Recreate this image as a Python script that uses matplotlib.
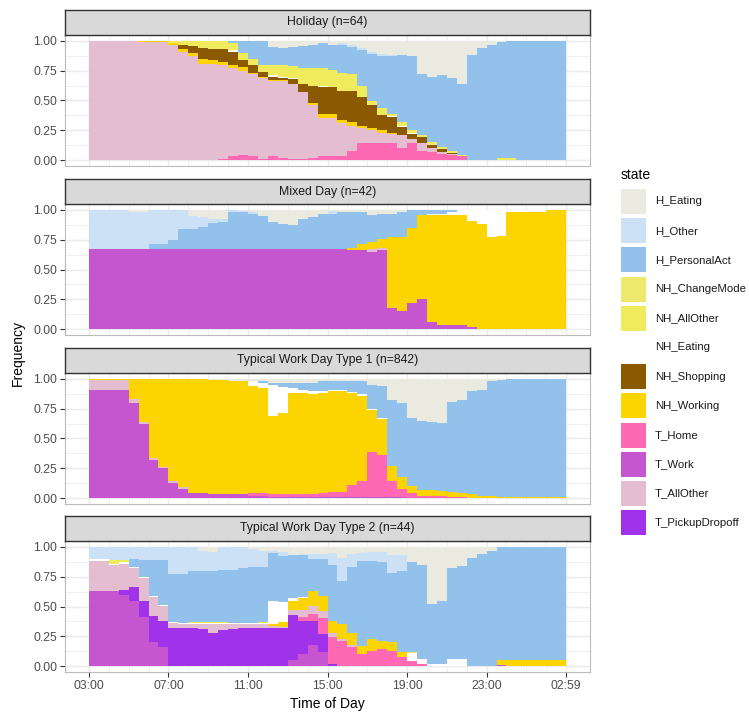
import numpy as np
import matplotlib
matplotlib.use("Agg")
import matplotlib.pyplot as plt
from matplotlib.patches import Rectangle

plt.rcParams['font.family'] = ['Liberation Sans', 'DejaVu Sans']

# ---- data: share of people in each state, half-hour slots from 03:00 ----
slot_start = 3.0      # 03:00
slot_len = 0.5        # hours
n_slots = 48

states = ["H_Eating", "H_Other", "H_PersonalAct", "NH_ChangeMode", "NH_AllOther",
          "NH_Eating", "NH_Shopping", "NH_Working", "T_Home", "T_Work",
          "T_AllOther", "T_PickupDropoff"]
state_colors = ["#EAEAE0", "#CCE1F5", "#92C1EC", "#EEE86C", "#EFEB5C",
                "#FFFFFF", "#8B5A00", "#FCD400", "#FF69B4", "#C655D0",
                "#E4BDD0", "#A033EA"]
# stacking order, bottom -> top
stack_order = ["T_Work", "T_PickupDropoff", "T_Home", "T_AllOther", "NH_Working",
               "NH_Shopping", "NH_Eating", "NH_AllOther", "NH_ChangeMode",
               "H_PersonalAct", "H_Other", "H_Eating"]

panel_titles = ["Holiday (n=64)", "Mixed Day (n=42)",
                "Typical Work Day Type 1 (n=842)", "Typical Work Day Type 2 (n=44)"]

# Holiday
hol_T_Home = [0]*13 + [.01, .03, .04, .03, .01, .03, .02, .01, .01, .02, .03, .03, .03,
                       .08, .14, .14, .14, .14, .10, .14, .08, .07, .05, .04, .03] + [0]*10
hol_T_AllOther = [1.0]*5 + [.99]*3 + [.97, .91, .87, .81, .81, .79, .74, .71, .69, .68,
                                      .63, .64, .63, .56, .44, .32, .32, .28, .21, .13,
                                      .11, .09, .08, .11, .04, .06, .03, .02, .01] + [0]*11
hol_NH_Working = [0]*5 + [.01]*3 + [.01, .02, .03, .04, .03, .02, .03, .03, .01, .01,
                                    .01, .01, 0, 0, .02, .04, .04, .03, .03, .02,
                                    .02, .02, .01] + [0]*17
hol_NH_Shopping = [0]*9 + [.04, .06, .09, .09, .11, .11, .06, .07, .04, .03,
                           .02, .04, .07, .14, .22, .22, .24, .26, .24, .19,
                           .13, .13, .07, .04, .05, .03, .02, .01] + [0]*11
hol_NH_Eating = [0]*14 + [.01] + [0]*3 + [.01, .01, .01] + [0, 0] + [.01] + [0]*6 \
    + [.01, .01, .01] + [0]*15
hol_NH_AllOther = [0]*8 + [.02, .03, .04, .06, .07, .07, .06, .06, .05, .06,
                           .09, .10, .10, .13, .15, .15, .15, .15, .14, .09,
                           .04, .06, .02, .03, .02, .02, .02, .02, .02, .01] \
    + [0, 0, 0, .02, .02] + [0]*5
hol_H_PersonalAct = [0]*14 + [.02, .10, .15, .20, .15, .14, .16, .19, .20, .21,
                              .21, .24, .23, .30, .39, .43, .48, .56, .62, .51,
                              .55, .60, .61, .60, .88, .94, .97, .97, .98] + [1.0]*5
hol_H_Other = [0]*25 + [.01, .02, .02, .02, .02, .01] + [0]*17
hol_H_Eating = [0]*18 + [.05, .06, .05, .04, .03, .02, .02, .02, .03, .06,
                         .09, .11, .12, .12, .13, .28, .30, .29, .31, .36,
                         .12, .06, .03, .01] + [0]*6

# Mixed Day
mix_T_Work = [.67]*26 + [.66, .66, .65, .66, .18, .15, .22, .25, .06, .03, .03, .03, .02] + [0]*9
mix_T_AllOther = [0]*28 + [.02, .02] + [0]*18
mix_NH_Working = [0]*26 + [.02, .05, .06, .08, .59, .62, .63, .71, .90, .93, .93, .93,
                           .89, .88, .77, .78] + [.98]*4 + [1.0]*2
mix_NH_Eating = [0]*34 + [.01, .01, .02, .04, .09, .12, .23, .22] + [.02]*4 + [0]*2
mix_H_PersonalAct = [0]*6 + [.04, .04, .08, .17, .17, .19, .22, .23, .31, .31,
                             .30, .28, .23, .21, .20, .25, .27, .30, .30, .31,
                             .30, .27, .23, .21, .20, .21, .15, .04, .03, .03, .02] + [0]*11
mix_H_Other = [.33]*4 + [.31]*2 + [.29, .29, .25, .16, .11, .08, .03, .02, .02, .01, .01] \
    + [0]*7 + [.02] + [0]*23
mix_H_Eating = [0]*4 + [.02, .02] + [0]*4 + [.05, .06, .08, .08, 0, .01, .02, .05, .10, .12,
                                            .13, .08, .06, .03, .01, .02, .02, .02, .04, .03,
                                            .03, .02] + [0]*16

# Typical Work Day Type 1
t1_T_Work = [.91]*4 + [.80, .62, .32, .25, .13, .08, .04, .04] + [.03]*4 + [.02, .02] \
    + [.01]*14 + [0]*16
t1_T_Home = [0]*16 + [.02]*7 + [.03, .04, .04, .10, .13, .38, .35, .13, .07, .04,
                                .02, .02, .02, .01, .01] + [0]*10
t1_T_AllOther = [.08]*4 + [.03, .02, .02, .01, .01, .01] + [0]*38
t1_NH_Working = [.01]*4 + [.17, .36, .66, .74, .86, .91, .96, .96, .96, .96,
                           .95, .95, .90, .88, .66, .68, .85, .85, .84, .84,
                           .85, .85, .77, .72, .35, .30, .13, .10, .06, .05,
                           .05, .04, .04, .03, .03, .02, .02] + [.01]*7
t1_NH_Eating = [0]*16 + [.04, .05, .26, .22, .04, .03, .03, .02] + [.01]*6 + [0]*18
t1_H_PersonalAct = [0]*17 + [.01, .02, .04, .05, .06, .07, .08, .07, .07, .09,
                             .11, .20, .27, .55, .62, .57, .58, .57, .57, .76,
                             .78, .87, .89, .96, .98] + [.99]*6
t1_H_Eating = [0]*12 + [.01, .01, .02, .02, .02, .02, .03, .03, .03, .03,
                        .03, .02, .02, .02, .02, .02, .05, .06, .18, .20,
                        .33, .35, .36, .37, .19, .18, .10, .09, .02, .01] + [0]*6

# Typical Work Day Type 2
t2_T_Work = [.63]*3 + [.60, .55, .41, .20, .16] + [0]*12 + [.05, .10, .18, .12] + [0]*17 \
    + [.01] + [0]*6
t2_T_PickupDropoff = [0]*3 + [.04, .11, .14, .22, .22, .32, .32, .32, .31, .28,
                              .30, .31, .32, .32, .32, .32, .32, .38, .28, .20,
                              .15, .02] + [0]*23
t2_T_Home = [0]*21 + [.03, .06, .13, .22, .21, .16, .10, .13, .14, .13, .08, .04, .02] + [0]*14
t2_T_AllOther = [.25, .25, .22, .22, .16, .19, .16, .12, .04, .03, .03, .04, .07, .05,
                 .04, .03, .03, .03, .02, .01, .04, .06, .06, .06, .04, .02, .02] + [0]*21
t2_NH_Working = [0]*18 + [.01, .04, .08, .10, .13, .13, .10, .12, .10, .07, .10, .07,
                          .07, .04] + [0]*9 + [.04] + [.05]*6
t2_NH_Eating = [.02, .02] + [.01]*16 + [.20, .17, .02, .01] + [0]*10 \
    + [.07, .04, .02, .02, .06, .06] + [0]*10
t2_NH_AllOther = [0, 0, .03, .02] + [0]*6 + [.01, .01, .01, .01] + [0]*3 + [.01] + [0]*14 \
    + [.01] + [0]*15
t2_H_PersonalAct = [0]*4 + [.07, .14, .30, .38, .40, .41, .43, .43, .43, .44,
                            .45, .46, .47, .46, .40, .38, .36, .35, .27, .31,
                            .47, .36, .55, .71, .65, .66, .58, .68, .75, .79,
                            .50, .53, .76, .78, .91, .94, .97, .95] + [.95]*6
t2_H_Other = [.10, .10, .11, .11, .10, .11, .11, .11, .23, .23, .20, .17, .16, .19, .19, .18,
              .15, .14, .02, .04, 0, .01, .04, .04, .10, .20, .11, .07, .08, .09, .15, .13] + [0]*16
t2_H_Eating = [0]*11 + [.03, .04, 0, 0, 0, .02, .03, .03, .04, .07,
                        .06, .06, .06, .05, .09, .06, .05, .04, .04, .07,
                        .07, .13, .15, .48, .45, .18, .16, .09, .06, .03] + [0]*7

holiday = {"T_Home": hol_T_Home, "T_AllOther": hol_T_AllOther, "NH_Working": hol_NH_Working,
           "NH_Shopping": hol_NH_Shopping, "NH_Eating": hol_NH_Eating,
           "NH_AllOther": hol_NH_AllOther, "H_PersonalAct": hol_H_PersonalAct,
           "H_Other": hol_H_Other, "H_Eating": hol_H_Eating}
mixed = {"T_Work": mix_T_Work, "T_AllOther": mix_T_AllOther, "NH_Working": mix_NH_Working,
         "NH_Eating": mix_NH_Eating, "H_PersonalAct": mix_H_PersonalAct,
         "H_Other": mix_H_Other, "H_Eating": mix_H_Eating}
typ1 = {"T_Work": t1_T_Work, "T_Home": t1_T_Home, "T_AllOther": t1_T_AllOther,
        "NH_Working": t1_NH_Working, "NH_Eating": t1_NH_Eating,
        "H_PersonalAct": t1_H_PersonalAct, "H_Eating": t1_H_Eating}
typ2 = {"T_Work": t2_T_Work, "T_PickupDropoff": t2_T_PickupDropoff, "T_Home": t2_T_Home,
        "T_AllOther": t2_T_AllOther, "NH_Working": t2_NH_Working, "NH_Eating": t2_NH_Eating,
        "NH_AllOther": t2_NH_AllOther, "H_PersonalAct": t2_H_PersonalAct,
        "H_Other": t2_H_Other, "H_Eating": t2_H_Eating}
panels = [holiday, mixed, typ1, typ2]

tick_pos = [3, 7, 11, 15, 19, 23, 26 + 59/60]
tick_lab = ["03:00", "07:00", "11:00", "15:00", "19:00", "23:00", "02:59"]

# ---- layout (pixels) ----
W, H = 749, 715
def rect(x0, top, w, h):
    return [x0 / W, 1 - (top + h) / H, w / W, h / H]

px_left, px_width = 65, 525
panel_tops = [35, 204, 373, 541]
panel_h = 131
strip_h = 25

color_of = dict(zip(states, state_colors))
t_edges = slot_start + slot_len * np.arange(n_slots + 1)

fig = plt.figure(figsize=(W / 100, H / 100), dpi=100)

for i, (data, title) in enumerate(zip(panels, panel_titles)):
    ax = fig.add_axes(rect(px_left, panel_tops[i], px_width, panel_h))
    base = np.zeros(n_slots + 1)
    for s in stack_order:
        if s not in data:
            continue
        v = np.array(data[s], dtype=float)
        v = np.append(v, v[-1])
        ax.fill_between(t_edges, base, base + v, step='post', color=color_of[s],
                        linewidth=0, antialiased=False, zorder=2)
        base = base + v

    ax.set_xlim(1.8, 28.2)
    ax.set_ylim(-0.05, 1.05)
    ax.set_yticks([0, 0.25, 0.5, 0.75, 1.0])
    ax.set_yticklabels(["0.00", "0.25", "0.50", "0.75", "1.00"])
    ax.set_yticks([0.125, 0.375, 0.625, 0.875], minor=True)
    ax.set_xticks(tick_pos)
    ax.set_xticks(np.arange(4, 27), minor=True)
    ax.grid(which='major', color='#EBEBEB', linewidth=1.07, zorder=0)
    ax.grid(which='minor', color='#EBEBEB', linewidth=0.55, zorder=0)
    ax.set_axisbelow(True)
    ax.tick_params(axis='both', which='minor', length=0)
    ax.tick_params(axis='both', which='major', length=3.5, width=0.8, color='#333333',
                   labelsize=8.8, labelcolor='#4D4D4D', pad=2)
    if i < 3:
        ax.tick_params(axis='x', which='major', length=0, labelbottom=False)
    else:
        ax.set_xticklabels(tick_lab)
    for sp in ax.spines.values():
        sp.set_color('#BBBBBB')
        sp.set_linewidth(0.8)

    sax = fig.add_axes(rect(px_left, panel_tops[i] - strip_h, px_width, strip_h))
    sax.set_facecolor('#D9D9D9')
    sax.set_xticks([])
    sax.set_yticks([])
    for sp in sax.spines.values():
        sp.set_color('#333333')
        sp.set_linewidth(1.0)
    sax.text(0.5, 0.5, title, ha='center', va='center', fontsize=8.8,
             color='#1A1A1A', transform=sax.transAxes)

fig.text(0.5 * (2 * px_left + px_width) / W, 1 - 704 / H, "Time of Day",
         ha='center', va='center', fontsize=10)
fig.text(18 / W, 1 - 353 / H, "Frequency", rotation=90, ha='center', va='center',
         fontsize=10)

# legend, drawn as in ggplot: title, then square keys with labels
key_x, key_top0, key_size, key_pitch = 621, 189, 25, 29.2
fig.text(key_x / W, 1 - 175 / H, "state", ha='left', va='center', fontsize=10)
for k, (s, c) in enumerate(zip(states, state_colors)):
    top = key_top0 + k * key_pitch
    fig.add_artist(Rectangle((key_x / W, 1 - (top + key_size) / H), key_size / W,
                             key_size / H, transform=fig.transFigure,
                             facecolor=c, edgecolor='none'))
    fig.text(655 / W, 1 - (top + key_size / 2) / H, s, ha='left', va='center',
             fontsize=8.2, color='#1A1A1A')

fig.savefig('out.png', dpi=100)
